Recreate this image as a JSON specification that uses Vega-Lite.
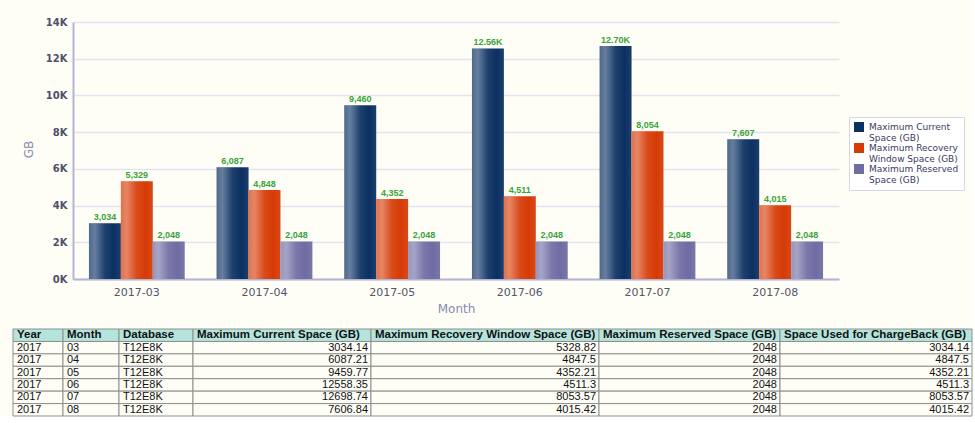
{
  "$schema": "https://vega.github.io/schema/vega-lite/v6.json",
  "background": "#fefef7",
  "padding": {"left": 12, "top": 17, "right": 0, "bottom": 0},
  "config": {"view": {"stroke": null}},
  "spacing": 14,
  "datasets": {
    "chart": [
      {"Month": "2017-03", "Series": "Maximum Current Space (GB)", "GB": 3034.14},
      {"Month": "2017-03", "Series": "Maximum Recovery Window Space (GB)", "GB": 5328.82},
      {"Month": "2017-03", "Series": "Maximum Reserved Space (GB)", "GB": 2048},
      {"Month": "2017-04", "Series": "Maximum Current Space (GB)", "GB": 6087.21},
      {"Month": "2017-04", "Series": "Maximum Recovery Window Space (GB)", "GB": 4847.5},
      {"Month": "2017-04", "Series": "Maximum Reserved Space (GB)", "GB": 2048},
      {"Month": "2017-05", "Series": "Maximum Current Space (GB)", "GB": 9459.77},
      {"Month": "2017-05", "Series": "Maximum Recovery Window Space (GB)", "GB": 4352.21},
      {"Month": "2017-05", "Series": "Maximum Reserved Space (GB)", "GB": 2048},
      {"Month": "2017-06", "Series": "Maximum Current Space (GB)", "GB": 12558.35},
      {"Month": "2017-06", "Series": "Maximum Recovery Window Space (GB)", "GB": 4511.3},
      {"Month": "2017-06", "Series": "Maximum Reserved Space (GB)", "GB": 2048},
      {"Month": "2017-07", "Series": "Maximum Current Space (GB)", "GB": 12698.74},
      {"Month": "2017-07", "Series": "Maximum Recovery Window Space (GB)", "GB": 8053.57},
      {"Month": "2017-07", "Series": "Maximum Reserved Space (GB)", "GB": 2048},
      {"Month": "2017-08", "Series": "Maximum Current Space (GB)", "GB": 7606.84},
      {"Month": "2017-08", "Series": "Maximum Recovery Window Space (GB)", "GB": 4015.42},
      {"Month": "2017-08", "Series": "Maximum Reserved Space (GB)", "GB": 2048}
    ],
    "table": [
      {"Year": "2017", "Month": "03", "Database": "T12E8K", "Current": 3034.14, "Recovery": 5328.82, "Reserved": 2048, "ChargeBack": 3034.14},
      {"Year": "2017", "Month": "04", "Database": "T12E8K", "Current": 6087.21, "Recovery": 4847.5, "Reserved": 2048, "ChargeBack": 4847.5},
      {"Year": "2017", "Month": "05", "Database": "T12E8K", "Current": 9459.77, "Recovery": 4352.21, "Reserved": 2048, "ChargeBack": 4352.21},
      {"Year": "2017", "Month": "06", "Database": "T12E8K", "Current": 12558.35, "Recovery": 4511.3, "Reserved": 2048, "ChargeBack": 4511.3},
      {"Year": "2017", "Month": "07", "Database": "T12E8K", "Current": 12698.74, "Recovery": 8053.57, "Reserved": 2048, "ChargeBack": 8053.57},
      {"Year": "2017", "Month": "08", "Database": "T12E8K", "Current": 7606.84, "Recovery": 4015.42, "Reserved": 2048, "ChargeBack": 4015.42}
    ]
  },
  "vconcat": [
    {
      "spacing": 0,
      "hconcat": [
        {
          "width": 1, "height": 257,
          "data": {"values": []},
          "mark": {"type": "point"},
          "encoding": {}
        },
        {
          "width": 766,
          "height": 257,
          "data": {"name": "chart"},
          "encoding": {
            "x": {
              "field": "Month", "type": "nominal", "title": "Month",
              "scale": {"paddingInner": 0.25, "paddingOuter": 0.125},
              "axis": {"labelAngle": 0, "ticks": false, "domainColor": "#b4b4d6", "domainWidth": 2,
                       "labelFont": "DejaVu Sans", "labelFontSize": 11, "labelColor": "#55556a", "labelPadding": 7,
                       "titleFont": "DejaVu Sans", "titleFontSize": 12, "titleFontWeight": "normal", "titleColor": "#8a8ab0", "titlePadding": 6}
            },
            "xOffset": {"field": "Series", "type": "nominal",
                        "scale": {"domain": ["Maximum Current Space (GB)", "Maximum Recovery Window Space (GB)", "Maximum Reserved Space (GB)"]}},
            "y": {
              "field": "GB", "type": "quantitative", "stack": null, "title": "GB",
              "scale": {"domain": [0, 14000]},
              "axis": {"values": [0, 2000, 4000, 6000, 8000, 10000, 12000, 14000],
                       "labelExpr": "(datum.value / 1000) + 'K'",
                       "tickSize": 59, "tickOpacity": 0, "labelPadding": -53,
                       "domainColor": "#b4b4d6", "domainWidth": 2,
                       "gridColor": "#e2e3f1", "gridWidth": 1.5,
                       "labelFont": "DejaVu Sans", "labelFontSize": 10, "labelFontWeight": "bold", "labelColor": "#4e4e6a",
                       "titleFont": "DejaVu Sans", "titleFontSize": 12, "titleFontWeight": "normal", "titleColor": "#8a8ab0",
                       "titleX": -38, "titleY": 127}
            }
          },
          "layer": [
            {
              "mark": {"type": "bar"},
              "encoding": {
                "color": {
                  "field": "Series", "type": "nominal",
                  "scale": {"domain": ["Maximum Current Space (GB)", "Maximum Recovery Window Space (GB)", "Maximum Reserved Space (GB)"],
                            "range": ["#0b3062", "#d63b06", "#6f6ca2"]},
                  "legend": {"title": null, "orient": "none", "legendX": 836, "legendY": 95,
                             "symbolType": "square", "symbolSize": 100, "symbolStrokeWidth": 0,
                             "labelFont": "DejaVu Sans", "labelFontSize": 9, "labelColor": "#3a3a62", "labelOffset": 5,
                             "padding": 5, "strokeColor": "#d6d6e4", "fillColor": "#ffffff", "rowPadding": 0,
                             "labelExpr": "datum.label == 'Maximum Current Space (GB)' ? ['Maximum Current', 'Space (GB)'] : datum.label == 'Maximum Recovery Window Space (GB)' ? ['Maximum Recovery', 'Window Space (GB)'] : ['Maximum Reserved', 'Space (GB)']"}
                }
              }
            },
            {
              "mark": {"type": "bar",
                       "fill": {"gradient": "linear", "x1": 0, "y1": 0, "x2": 1, "y2": 0,
                                "stops": [
                                  {"offset": 0, "color": "rgba(255,255,255,0.28)"},
                                  {"offset": 0.18, "color": "rgba(255,255,255,0.38)"},
                                  {"offset": 0.5, "color": "rgba(255,255,255,0.08)"},
                                  {"offset": 0.78, "color": "rgba(255,255,255,0)"},
                                  {"offset": 1, "color": "rgba(255,255,255,0.07)"}
                                ]}}
            },
            {
              "transform": [{"calculate": "datum.GB >= 10000 ? format(datum.GB / 1000, '.2f') + 'K' : format(datum.GB, ',.0f')", "as": "Label"}],
              "mark": {"type": "text", "baseline": "bottom", "dy": -1, "font": "Liberation Sans", "fontSize": 9, "fontWeight": "bold", "color": "#38a338"},
              "encoding": {"text": {"field": "Label", "type": "nominal"}}
            }
          ]
        }
      ]
    },
    {
      "hconcat": [
        {
          "width": 50, "height": 87, "data": {"name": "table"},
          "encoding": {"y": {"field": "Month", "type": "ordinal", "axis": null, "scale": {"domain": ["hdr", "03", "04", "05", "06", "07", "08"], "paddingInner": 0, "paddingOuter": 0}}},
          "layer": [
            {"mark": {"type": "rect", "fill": "#fefef7", "stroke": "#8e8e8e", "strokeWidth": 1}},
            {"mark": {"type": "text", "align": "left", "dx": 4, "font": "Liberation Sans", "fontSize": 11, "color": "#111111"},
             "encoding": {"x": {"datum": 0, "type": "quantitative", "scale": {"domain": [0, 1]}, "axis": null}, "text": {"field": "Year", "type": "nominal"}}},
            {"data": {"values": [{"Month": "hdr"}]}, "mark": {"type": "rect", "fill": "#b5e4dd", "stroke": "#8e8e8e", "strokeWidth": 1}},
            {"data": {"values": [{"Month": "hdr"}]}, "mark": {"type": "text", "align": "left", "dx": 4, "font": "Liberation Sans", "fontSize": 11.5, "fontWeight": "bold", "color": "#111111", "text": "Year"},
             "encoding": {"x": {"datum": 0, "type": "quantitative"}}}
          ]
        },
        {
          "width": 56, "height": 87, "data": {"name": "table"},
          "encoding": {"y": {"field": "Month", "type": "ordinal", "axis": null, "scale": {"domain": ["hdr", "03", "04", "05", "06", "07", "08"], "paddingInner": 0, "paddingOuter": 0}}},
          "layer": [
            {"mark": {"type": "rect", "fill": "#fefef7", "stroke": "#8e8e8e", "strokeWidth": 1}},
            {"mark": {"type": "text", "align": "left", "dx": 4, "font": "Liberation Sans", "fontSize": 11, "color": "#111111"},
             "encoding": {"x": {"datum": 0, "type": "quantitative", "scale": {"domain": [0, 1]}, "axis": null}, "text": {"field": "Month", "type": "nominal"}}},
            {"data": {"values": [{"Month": "hdr"}]}, "mark": {"type": "rect", "fill": "#b5e4dd", "stroke": "#8e8e8e", "strokeWidth": 1}},
            {"data": {"values": [{"Month": "hdr"}]}, "mark": {"type": "text", "align": "left", "dx": 4, "font": "Liberation Sans", "fontSize": 11.5, "fontWeight": "bold", "color": "#111111", "text": "Month"},
             "encoding": {"x": {"datum": 0, "type": "quantitative"}}}
          ]
        },
        {
          "width": 74, "height": 87, "data": {"name": "table"},
          "encoding": {"y": {"field": "Month", "type": "ordinal", "axis": null, "scale": {"domain": ["hdr", "03", "04", "05", "06", "07", "08"], "paddingInner": 0, "paddingOuter": 0}}},
          "layer": [
            {"mark": {"type": "rect", "fill": "#fefef7", "stroke": "#8e8e8e", "strokeWidth": 1}},
            {"mark": {"type": "text", "align": "left", "dx": 4, "font": "Liberation Sans", "fontSize": 11, "color": "#111111"},
             "encoding": {"x": {"datum": 0, "type": "quantitative", "scale": {"domain": [0, 1]}, "axis": null}, "text": {"field": "Database", "type": "nominal"}}},
            {"data": {"values": [{"Month": "hdr"}]}, "mark": {"type": "rect", "fill": "#b5e4dd", "stroke": "#8e8e8e", "strokeWidth": 1}},
            {"data": {"values": [{"Month": "hdr"}]}, "mark": {"type": "text", "align": "left", "dx": 4, "font": "Liberation Sans", "fontSize": 11.5, "fontWeight": "bold", "color": "#111111", "text": "Database"},
             "encoding": {"x": {"datum": 0, "type": "quantitative"}}}
          ]
        },
        {
          "width": 178, "height": 87, "data": {"name": "table"},
          "encoding": {"y": {"field": "Month", "type": "ordinal", "axis": null, "scale": {"domain": ["hdr", "03", "04", "05", "06", "07", "08"], "paddingInner": 0, "paddingOuter": 0}}},
          "layer": [
            {"mark": {"type": "rect", "fill": "#fefef7", "stroke": "#8e8e8e", "strokeWidth": 1}},
            {"mark": {"type": "text", "align": "right", "dx": -3, "font": "Liberation Sans", "fontSize": 11, "color": "#111111"},
             "encoding": {"x": {"datum": 1, "type": "quantitative", "scale": {"domain": [0, 1]}, "axis": null}, "text": {"field": "Current", "type": "nominal"}}},
            {"data": {"values": [{"Month": "hdr"}]}, "mark": {"type": "rect", "fill": "#b5e4dd", "stroke": "#8e8e8e", "strokeWidth": 1}},
            {"data": {"values": [{"Month": "hdr"}]}, "mark": {"type": "text", "align": "left", "dx": 4, "font": "Liberation Sans", "fontSize": 11.5, "fontWeight": "bold", "color": "#111111", "text": "Maximum Current Space (GB)"},
             "encoding": {"x": {"datum": 0, "type": "quantitative"}}}
          ]
        },
        {
          "width": 228, "height": 87, "data": {"name": "table"},
          "encoding": {"y": {"field": "Month", "type": "ordinal", "axis": null, "scale": {"domain": ["hdr", "03", "04", "05", "06", "07", "08"], "paddingInner": 0, "paddingOuter": 0}}},
          "layer": [
            {"mark": {"type": "rect", "fill": "#fefef7", "stroke": "#8e8e8e", "strokeWidth": 1}},
            {"mark": {"type": "text", "align": "right", "dx": -3, "font": "Liberation Sans", "fontSize": 11, "color": "#111111"},
             "encoding": {"x": {"datum": 1, "type": "quantitative", "scale": {"domain": [0, 1]}, "axis": null}, "text": {"field": "Recovery", "type": "nominal"}}},
            {"data": {"values": [{"Month": "hdr"}]}, "mark": {"type": "rect", "fill": "#b5e4dd", "stroke": "#8e8e8e", "strokeWidth": 1}},
            {"data": {"values": [{"Month": "hdr"}]}, "mark": {"type": "text", "align": "left", "dx": 4, "font": "Liberation Sans", "fontSize": 11.5, "fontWeight": "bold", "color": "#111111", "text": "Maximum Recovery Window Space (GB)"},
             "encoding": {"x": {"datum": 0, "type": "quantitative"}}}
          ]
        },
        {
          "width": 181, "height": 87, "data": {"name": "table"},
          "encoding": {"y": {"field": "Month", "type": "ordinal", "axis": null, "scale": {"domain": ["hdr", "03", "04", "05", "06", "07", "08"], "paddingInner": 0, "paddingOuter": 0}}},
          "layer": [
            {"mark": {"type": "rect", "fill": "#fefef7", "stroke": "#8e8e8e", "strokeWidth": 1}},
            {"mark": {"type": "text", "align": "right", "dx": -3, "font": "Liberation Sans", "fontSize": 11, "color": "#111111"},
             "encoding": {"x": {"datum": 1, "type": "quantitative", "scale": {"domain": [0, 1]}, "axis": null}, "text": {"field": "Reserved", "type": "nominal"}}},
            {"data": {"values": [{"Month": "hdr"}]}, "mark": {"type": "rect", "fill": "#b5e4dd", "stroke": "#8e8e8e", "strokeWidth": 1}},
            {"data": {"values": [{"Month": "hdr"}]}, "mark": {"type": "text", "align": "left", "dx": 4, "font": "Liberation Sans", "fontSize": 11.5, "fontWeight": "bold", "color": "#111111", "text": "Maximum Reserved Space (GB)"},
             "encoding": {"x": {"datum": 0, "type": "quantitative"}}}
          ]
        },
        {
          "width": 192, "height": 87, "data": {"name": "table"},
          "encoding": {"y": {"field": "Month", "type": "ordinal", "axis": null, "scale": {"domain": ["hdr", "03", "04", "05", "06", "07", "08"], "paddingInner": 0, "paddingOuter": 0}}},
          "layer": [
            {"mark": {"type": "rect", "fill": "#fefef7", "stroke": "#8e8e8e", "strokeWidth": 1}},
            {"mark": {"type": "text", "align": "right", "dx": -3, "font": "Liberation Sans", "fontSize": 11, "color": "#111111"},
             "encoding": {"x": {"datum": 1, "type": "quantitative", "scale": {"domain": [0, 1]}, "axis": null}, "text": {"field": "ChargeBack", "type": "nominal"}}},
            {"data": {"values": [{"Month": "hdr"}]}, "mark": {"type": "rect", "fill": "#b5e4dd", "stroke": "#8e8e8e", "strokeWidth": 1}},
            {"data": {"values": [{"Month": "hdr"}]}, "mark": {"type": "text", "align": "left", "dx": 4, "font": "Liberation Sans", "fontSize": 11.5, "fontWeight": "bold", "color": "#111111", "text": "Space Used for ChargeBack (GB)"},
             "encoding": {"x": {"datum": 0, "type": "quantitative"}}}
          ]
        }
      ],
      "spacing": 0,
      "bounds": "flush"
    }
  ]
}
